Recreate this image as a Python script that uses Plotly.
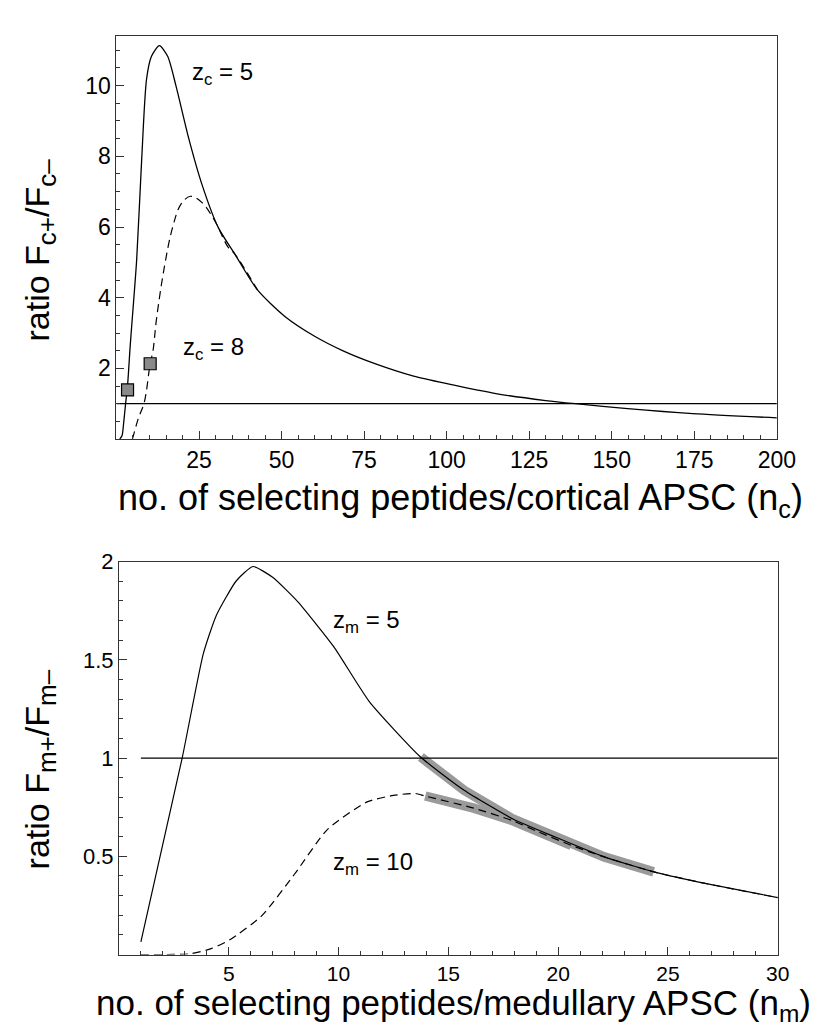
import plotly.graph_objects as go

# top panel: cortical APSC, z_c = 5 (solid) and z_c = 8 (dashed)
nc_z5 = [1.0, 1.7, 2.2, 2.76, 3.35, 4.15, 4.6, 6.1, 7.6, 9.1, 10.6, 13.0, 15.5, 18.0, 21.9,
         25.9, 30.8, 35.8, 42.7, 51.0, 60.0, 68.8, 78.7, 90.0, 100.4, 115.3, 130.0, 139.0,
         154.8, 174.5, 200.0]
ratio_z5 = [0.0, 0.1, 0.48, 1.0, 1.51, 2.63, 3.19, 5.05, 7.85, 10.18, 10.83, 11.13, 10.83,
            10.0, 8.5, 7.2, 5.99, 5.24, 4.22, 3.47, 2.91, 2.49, 2.12, 1.78, 1.56, 1.28, 1.09,
            1.0, 0.86, 0.72, 0.6]

nc_z8 = [4.8, 5.1, 6.6, 8.4, 10.2, 11.05, 12.1, 14.5, 17.0, 19.5, 22.4, 25.9, 29.8, 33.8,
         35.8, 42.7]
ratio_z8 = [0.0, 0.09, 0.58, 1.03, 2.13, 2.49, 3.38, 4.87, 5.99, 6.64, 6.87, 6.69, 6.17,
            5.43, 5.24, 4.22]

nc_squares = [3.35, 10.2]
ratio_squares = [1.39, 2.13]

nc_unity = [0, 200]
ratio_unity_c = [1, 1]

# bottom panel: medullary APSC, z_m = 5 (solid) and z_m = 10 (dashed)
nm_z5 = [1.0, 2.88, 3.84, 4.43, 5.33, 6.1, 7.0, 8.15, 9.78, 11.41, 13.71, 15.72, 17.94,
         19.87, 22.1, 24.32, 26.4, 30.0]
ratio_m5 = [0.065, 1.0, 1.53, 1.725, 1.9, 1.975, 1.92, 1.795, 1.567, 1.286, 1.008, 0.836,
            0.69, 0.598, 0.497, 0.422, 0.369, 0.29]

nm_z10 = [1.0, 2.0, 3.25, 4.2, 5.03, 6.5, 8.0, 9.5, 11.3, 12.5, 13.5, 13.94, 16.16, 17.94,
          19.13, 20.6, 22.1, 24.32, 26.4, 30.0]
ratio_m10 = [0.0, 0.0, 0.004, 0.03, 0.074, 0.197, 0.41, 0.637, 0.777, 0.81, 0.82, 0.807,
             0.745, 0.681, 0.623, 0.556, 0.497, 0.422, 0.369, 0.29]

band_upper_n = [13.75, 15.72, 17.94, 19.87, 22.1, 24.35]
band_upper_y = [1.005, 0.836, 0.69, 0.598, 0.497, 0.421]
band_lower_n = [13.95, 16.16, 17.94, 19.13, 20.6]
band_lower_y = [0.807, 0.745, 0.681, 0.623, 0.556]

nm_unity = [1, 30]
ratio_unity_m = [1, 1]

W, H = 837, 1028
FONT = "Liberation Sans, Arial, sans-serif"


def px(x):
    return x / W


def py(y):
    return 1 - y / H


fig = go.Figure()

# top panel
fig.add_trace(go.Scatter(x=nc_unity, y=ratio_unity_c, mode="lines",
                         line=dict(color="black", width=1.2), xaxis="x", yaxis="y"))
fig.add_trace(go.Scatter(x=nc_z8, y=ratio_z8, mode="lines", line_shape="spline",
                         line=dict(color="black", width=1.2, dash="8px,5px"),
                         xaxis="x", yaxis="y"))
fig.add_trace(go.Scatter(x=nc_z5, y=ratio_z5, mode="lines", line_shape="spline",
                         line=dict(color="black", width=1.3, smoothing=0.7),
                         xaxis="x", yaxis="y"))
fig.add_trace(go.Scatter(x=nc_squares, y=ratio_squares, mode="markers",
                         marker=dict(symbol="square", size=12, color="#8a8a8a",
                                     line=dict(color="black", width=1.2)),
                         xaxis="x", yaxis="y"))

# bottom panel
fig.add_trace(go.Scatter(x=band_upper_n, y=band_upper_y, mode="lines",
                         line=dict(color="#9a9a9a", width=9.5),
                         xaxis="x2", yaxis="y2"))
fig.add_trace(go.Scatter(x=band_lower_n, y=band_lower_y, mode="lines",
                         line=dict(color="#9a9a9a", width=9.5),
                         xaxis="x2", yaxis="y2"))
fig.add_trace(go.Scatter(x=nm_unity, y=ratio_unity_m, mode="lines",
                         line=dict(color="black", width=1.2), xaxis="x2", yaxis="y2"))
fig.add_trace(go.Scatter(x=nm_z10, y=ratio_m10, mode="lines", line_shape="spline",
                         line=dict(color="black", width=1.2, dash="8px,5px", smoothing=0.6),
                         xaxis="x2", yaxis="y2"))
fig.add_trace(go.Scatter(x=nm_z5, y=ratio_m5, mode="lines", line_shape="spline",
                         line=dict(color="black", width=1.2, smoothing=0.5),
                         xaxis="x2", yaxis="y2"))

axis_common = dict(showgrid=False, zeroline=False, showline=True, mirror=True,
                   linecolor="#333333", linewidth=1, ticks="inside", ticklen=8,
                   tickcolor="#333333", tickwidth=1,
                   tickfont=dict(family=FONT, size=23, color="black"))
small_ticks = dict(family=FONT, size=21, color="black")

fig.update_layout(
    width=W, height=H,
    margin=dict(l=0, r=0, t=0, b=0),
    paper_bgcolor="white", plot_bgcolor="white",
    showlegend=False,
    xaxis=dict(axis_common, domain=[px(111), px(786.7)], range=[0, 200],
               tickvals=[25, 50, 75, 100, 125, 150, 175, 200], anchor="y",
               minor=dict(ticks="inside", ticklen=4, dtick=5, tick0=0,
                          tickcolor="#333333")),
    yaxis=dict(axis_common, domain=[py(424), py(16)], range=[0, 11.41],
               tickvals=[2, 4, 6, 8, 10], anchor="x",
               minor=dict(ticks="inside", ticklen=4, dtick=0.5, tick0=0,
                          tickcolor="#333333")),
    xaxis2=dict(axis_common, domain=[px(113.5), px(787.6)], range=[0, 30],
                tickvals=[5, 10, 15, 20, 25, 30], anchor="y2", tickfont=small_ticks,
                minor=dict(ticks="inside", ticklen=4, dtick=1, tick0=0,
                           tickcolor="#333333")),
    yaxis2=dict(axis_common, domain=[py(945.6), py(548)], range=[0, 2],
                tickvals=[0.5, 1, 1.5, 2], ticktext=["0.5", "1", "1.5", "2"],
                anchor="x2", tickfont=dict(family=FONT, size=22, color="black"),
                minor=dict(ticks="inside", ticklen=4, dtick=0.1, tick0=0,
                           tickcolor="#333333")),
)

label_font = dict(family=FONT, size=24, color="black")
title_font = dict(family=FONT, size=36, color="black")
sub = "<sub><span style='font-size:26px'>{}</span></sub>"

annotations = [
    dict(text="z<sub>c</sub> = 5", x=px(186.7), y=py(54), xanchor="left", yanchor="middle",
         font=label_font),
    dict(text="z<sub>c</sub> = 8", x=px(176.7), y=py(332), xanchor="left", yanchor="middle",
         font=label_font),
    dict(text="z<sub>m</sub> = 5", x=px(330), y=py(609), xanchor="left", yanchor="middle",
         font=label_font),
    dict(text="z<sub>m</sub> = 10", x=px(330), y=py(853), xanchor="left", yanchor="middle",
         font=label_font),
    dict(text="no. of selecting peptides/cortical APSC (n<sub>c</sub>)", x=px(462.5),
         y=py(486), xanchor="center", yanchor="middle", font=title_font),
    dict(text="no. of selecting peptides/medullary APSC (n<sub>m</sub>)", x=px(456),
         y=py(997), xanchor="center", yanchor="middle",
         font=dict(family=FONT, size=35, color="black")),
    dict(text="ratio F" + sub.format("c+") + "/F" + sub.format("c\u2013"), x=px(33),
         y=py(233), xanchor="center", yanchor="middle", textangle=-90,
         font=dict(family=FONT, size=34, color="black")),
    dict(text="ratio F" + sub.format("m+") + "/F" + sub.format("m\u2013"), x=px(33),
         y=py(758), xanchor="center", yanchor="middle", textangle=-90,
         font=dict(family=FONT, size=34, color="black")),
]
for a in annotations:
    a.update(xref="paper", yref="paper", showarrow=False)
fig.update_layout(annotations=annotations)

fig.write_html("out.html")
